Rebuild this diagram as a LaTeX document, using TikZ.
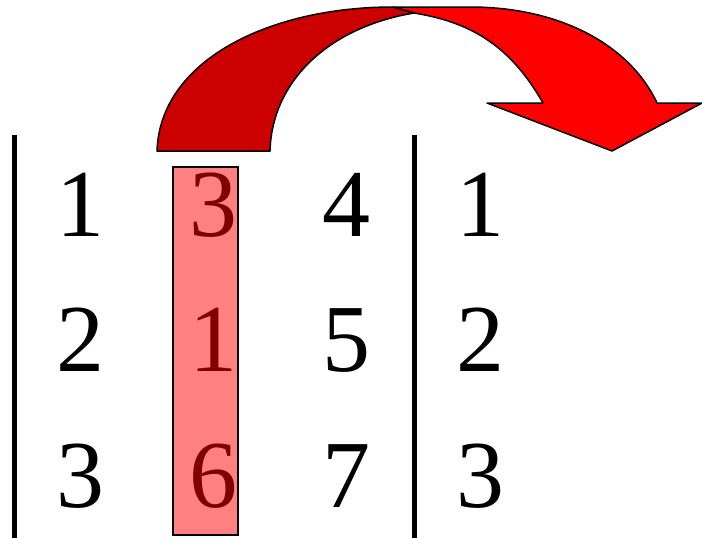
\documentclass[tikz,border=0pt]{standalone}
\usepackage{fontspec}
\setmainfont{Liberation Serif}
\definecolor{darkarrow}{HTML}{CC0000}
\definecolor{lightarrow}{HTML}{FF0000}
\definecolor{colfill}{HTML}{FF8080}
\definecolor{coltext}{HTML}{800000}
\begin{document}
\begin{tikzpicture}[
        x=1pt, y=-1pt,
        every node/.style={inner sep=0pt, anchor=base, font=\fontsize{96}{96}\selectfont},
        picked/.style={text=coltext},
        bar/.style={line width=5pt},
        band/.style={draw=black, line width=1.5pt, line join=round}
    ]
    \useasboundingbox (0,0) rectangle (702,538);
    % highlighted column
    \draw[fill=colfill, line width=1.2pt] (173,167) rectangle (238,535);
    % vertical bars
    \draw[bar] (14.5,135) -- (14.5,538);
    \draw[bar] (414,135) -- (414,538);
    % entries
    \node (a1) at (80,236) {1};
    \node[picked] (b1) at (213,236) {3};
    \node (c1) at (346,236) {4};
    \node (d1) at (480,236) {1};
    \node (a2) at (80,371) {2};
    \node[picked] (b2) at (213,371) {1};
    \node (c2) at (346,371) {5};
    \node (d2) at (480,371) {2};
    \node (a3) at (80,507) {3};
    \node[picked] (b3) at (213,507) {6};
    \node (c3) at (346,507) {7};
    \node (d3) at (480,507) {3};
    % curved arrow
    \draw[band, fill=lightarrow] (393,7) -- (470,7)
        .. controls (560,7) and (630,45) .. (657,103)
        -- (702,103) -- (612,151) -- (487,103) -- (543,103)
        .. controls (510,45) and (470,22) .. (414,13) -- cycle;
    \draw[band, fill=darkarrow] (157,151)
        .. controls (160,60) and (270,7) .. (393,7)
        -- (414,13)
        .. controls (330,27) and (272,80) .. (270,151) -- cycle;
\end{tikzpicture}
\end{document}
